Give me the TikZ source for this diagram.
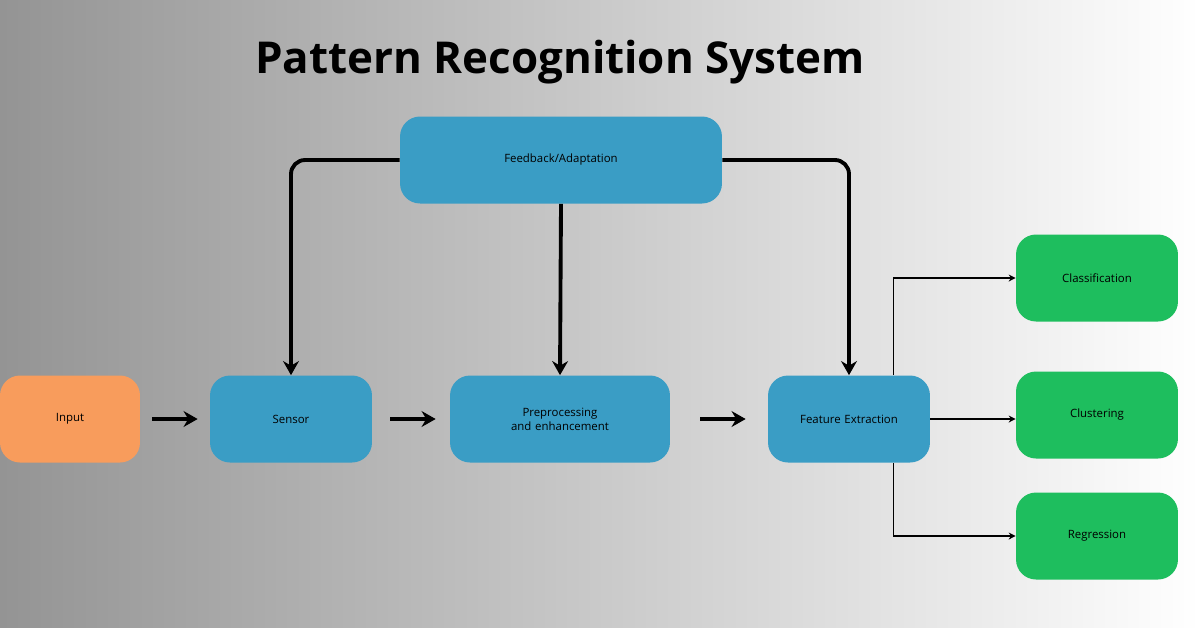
\documentclass[tikz,border=0pt]{standalone}
\usepackage{fontspec}
\setmainfont{Open Sans}
\usetikzlibrary{arrows.meta,calc}
\definecolor{boxblue}{HTML}{3A9DC5}
\definecolor{boxorange}{HTML}{F89C5C}
\definecolor{boxgreen}{HTML}{1EBE5E}
\begin{document}
\begin{tikzpicture}[x=0.02cm,y=-0.02cm]
  \tikzset{block/.style={draw=none, rounded corners=0.4cm, minimum width=3.24cm, minimum height=1.74cm,
             align=center, font=\fontsize{6.5}{8}\selectfont, text width=2.6cm, inner sep=0pt},
           flow/.style={-{Stealth[length=8pt,width=9pt]}, line width=2.2pt},
           branch/.style={-{Stealth[length=4pt,width=4pt]}, line width=0.9pt}}
%% Background
      \shade[left color=black!42, right color=white] (0,0) rectangle (1200,627);
      \useasboundingbox (0,0) rectangle (1200,627);
      \node[font=\bfseries\fontsize{25}{30}\selectfont] (title) at (560,62) {Pattern Recognition System};
%% Blocks
      \node[block, fill=boxblue, minimum width=6.44cm] (feedback) at (561,160) {Feedback/Adaptation};
      \node[block, fill=boxorange, minimum width=2.8cm] (input) at (70,419) {Input};
      \node[block, fill=boxblue] (sensor) at (291,419) {Sensor};
      \node[block, fill=boxblue, minimum width=4.4cm, text width=3cm] (prep) at (560,419) {Preprocessing and enhancement};
      \node[block, fill=boxblue] (feature) at (849,419) {Feature Extraction};
      \node[block, fill=boxgreen] (classif) at (1097,278) {Classification};
      \node[block, fill=boxgreen] (cluster) at (1097,415) {Clustering};
      \node[block, fill=boxgreen] (regress) at (1097,536) {Regression};
%% Main flow
      \draw[flow] ($(input.east)+(12,0)$) -- ($(sensor.west)+(-12,0)$);
      \draw[flow] ($(sensor.east)+(18,0)$) -- ($(prep.west)+(-14,0)$);
      \draw[flow] ($(prep.east)+(30,0)$) -- ($(feature.west)+(-22,0)$);
%% Feedback
      \draw[flow, rounded corners=8pt] (feedback.west) -| (sensor.north);
      \draw[flow] (feedback.south) -- (prep.north);
      \draw[flow, rounded corners=8pt] (feedback.east) -| (feature.north);
%% Outputs
      \coordinate (up) at ($(feature.north east)+(-37,0)$);
      \coordinate (down) at ($(feature.south east)+(-37,0)$);
      \draw[branch] (feature.east) -- (feature.east -| cluster.west);
      \draw[branch] (up) |- (classif.west);
      \draw[branch] (down) |- (regress.west);
\end{tikzpicture}
\end{document}
